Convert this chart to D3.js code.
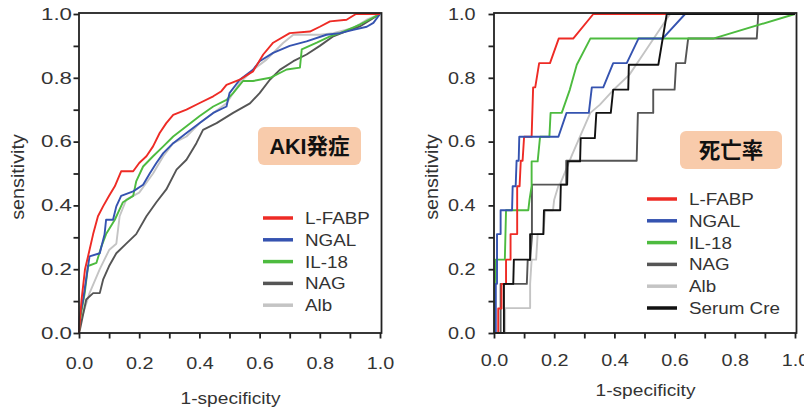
<!DOCTYPE html>
<html>
<head>
<meta charset="utf-8">
<script src="https://cdn.jsdelivr.net/npm/d3@7"></script>
<style>
  body { margin: 0; background: #fff; }
  text { font-family: "Liberation Sans", Arial, "Noto Sans CJK JP", sans-serif; }
</style>
</head>
<body>
<svg id="chart" width="804" height="412"></svg>
<script>

// ROC points [1-specificity, sensitivity], AKI onset panel
var akiLFABP = [[0,0],[0.008,0.1],[0.02,0.2],[0.03,0.24],[0.047,0.31],[0.063,0.366],[0.08,0.397],[0.1,0.43],[0.119,0.46],[0.14,0.507],[0.18,0.507],[0.2,0.533],[0.224,0.554],[0.246,0.585],[0.268,0.627],[0.29,0.658],[0.313,0.684],[0.357,0.7],[0.401,0.721],[0.446,0.742],[0.473,0.758],[0.49,0.778],[0.534,0.794],[0.578,0.82],[0.612,0.873],[0.645,0.91],[0.7,0.94],[0.767,0.945],[0.8,0.96],[0.834,0.977],[0.889,0.982],[0.92,1],[1,1]];
var akiNGAL = [[0,0],[0.002,0.05],[0.013,0.1],[0.027,0.19],[0.035,0.24],[0.069,0.25],[0.085,0.31],[0.09,0.355],[0.113,0.355],[0.124,0.397],[0.14,0.43],[0.18,0.444],[0.213,0.465],[0.235,0.5],[0.257,0.533],[0.28,0.564],[0.313,0.595],[0.357,0.627],[0.401,0.658],[0.446,0.69],[0.49,0.71],[0.5,0.752],[0.534,0.794],[0.578,0.825],[0.6,0.852],[0.645,0.878],[0.7,0.9],[0.756,0.914],[0.822,0.935],[0.867,0.94],[0.911,0.95],[0.956,0.96],[0.978,0.972],[1,1]];
var akiIL18 = [[0,0],[0.003,0.04],[0.019,0.125],[0.03,0.21],[0.058,0.22],[0.074,0.27],[0.09,0.31],[0.119,0.355],[0.146,0.41],[0.18,0.43],[0.19,0.475],[0.213,0.522],[0.246,0.554],[0.28,0.585],[0.313,0.616],[0.357,0.648],[0.401,0.68],[0.446,0.71],[0.49,0.731],[0.512,0.752],[0.545,0.79],[0.578,0.79],[0.635,0.8],[0.69,0.826],[0.734,0.832],[0.74,0.889],[0.79,0.91],[0.834,0.93],[0.867,0.94],[0.933,0.967],[1,1]];
var akiNAG = [[0,0],[0.003,0.01],[0.024,0.105],[0.047,0.125],[0.069,0.125],[0.08,0.167],[0.1,0.21],[0.124,0.25],[0.157,0.28],[0.19,0.31],[0.224,0.366],[0.257,0.41],[0.29,0.45],[0.324,0.512],[0.357,0.543],[0.39,0.595],[0.412,0.637],[0.457,0.658],[0.512,0.69],[0.568,0.72],[0.6,0.752],[0.634,0.794],[0.667,0.825],[0.712,0.852],[0.756,0.873],[0.8,0.9],[0.845,0.93],[0.889,0.946],[0.933,0.961],[1,1]];
var akiAlb = [[0,0],[0.003,0.03],[0.035,0.125],[0.069,0.2],[0.1,0.26],[0.124,0.28],[0.135,0.366],[0.157,0.418],[0.2,0.44],[0.246,0.5],[0.28,0.554],[0.313,0.595],[0.357,0.616],[0.401,0.658],[0.446,0.69],[0.49,0.72],[0.534,0.784],[0.578,0.825],[0.623,0.857],[0.678,0.909],[0.712,0.935],[0.8,0.935],[0.845,0.94],[0.911,0.956],[0.956,0.982],[1,1]];

// ROC points, mortality panel
var mortLFABP = [[0,0],[0.014,0],[0.014,0.077],[0.025,0.077],[0.025,0.154],[0.04,0.154],[0.04,0.23],[0.055,0.23],[0.055,0.31],[0.077,0.31],[0.077,0.46],[0.085,0.46],[0.089,0.54],[0.095,0.54],[0.1,0.615],[0.125,0.615],[0.13,0.77],[0.137,0.77],[0.15,0.846],[0.186,0.846],[0.215,0.923],[0.263,0.923],[0.33,1],[1,1]];
var mortNGAL = [[0,0],[0.006,0],[0.006,0.154],[0.01,0.154],[0.01,0.31],[0.022,0.31],[0.022,0.385],[0.06,0.385],[0.062,0.46],[0.072,0.46],[0.075,0.54],[0.082,0.54],[0.084,0.615],[0.214,0.615],[0.241,0.69],[0.315,0.69],[0.325,0.77],[0.363,0.77],[0.396,0.846],[0.441,0.846],[0.48,0.923],[0.56,0.923],[0.635,1],[1,1]];
var mortIL18 = [[0,0],[0.003,0],[0.003,0.154],[0.005,0.23],[0.036,0.23],[0.04,0.385],[0.114,0.385],[0.118,0.418],[0.125,0.46],[0.125,0.538],[0.145,0.538],[0.153,0.615],[0.184,0.615],[0.188,0.69],[0.225,0.69],[0.252,0.763],[0.275,0.841],[0.32,0.923],[0.728,0.923],[1,1]];
var mortNAG = [[0,0],[0.022,0],[0.022,0.154],[0.109,0.154],[0.112,0.229],[0.12,0.229],[0.126,0.302],[0.126,0.465],[0.24,0.465],[0.24,0.54],[0.474,0.54],[0.478,0.69],[0.529,0.69],[0.529,0.763],[0.6,0.763],[0.605,0.846],[0.635,0.846],[0.645,0.923],[0.873,0.923],[0.878,1],[1,1]];
var mortAlb = [[0,0],[0.037,0],[0.037,0.078],[0.12,0.078],[0.12,0.154],[0.125,0.23],[0.14,0.23],[0.145,0.31],[0.164,0.31],[0.17,0.385],[0.196,0.385],[0.2,0.418],[0.215,0.465],[0.219,0.465],[0.26,0.56],[0.32,0.69],[0.352,0.716],[0.4,0.765],[0.45,0.81],[0.5,0.88],[0.585,1],[1,1]];
var mortSerumCre = [[0,0],[0.033,0],[0.033,0.154],[0.064,0.154],[0.066,0.23],[0.12,0.23],[0.12,0.31],[0.164,0.31],[0.166,0.385],[0.22,0.385],[0.222,0.465],[0.243,0.465],[0.245,0.538],[0.286,0.538],[0.288,0.611],[0.335,0.611],[0.34,0.69],[0.388,0.69],[0.396,0.763],[0.446,0.763],[0.448,0.841],[0.546,0.841],[0.574,1],[1,1]];

var markerNames = ["L-FABP", "NGAL", "IL-18", "NAG", "Alb", "Serum Cre"];
var markerColors = ["#ee2b25", "#3553b0", "#4dbb3f", "#555555", "#c4c4c4", "#111111"];

var labelTicks = [0, 0.2, 0.4, 0.6, 0.8, 1.0];
var allTicks = [0, 0.1, 0.2, 0.3, 0.4, 0.5, 0.6, 0.7, 0.8, 0.9, 1.0];

var svg = d3.select("#chart");

// the scanned figure is a bit wider than tall, so text gets stretched sideways
function stretch(sel, s) {
    sel.each(function () {
        var t = d3.select(this);
        var tx = +t.attr("x") || 0, ty = +t.attr("y") || 0;
        t.attr("x", 0).attr("y", 0)
            .attr("transform", "translate(" + tx + "," + ty + ") scale(" + s + ",1)");
    });
}

function drawPanel(p) {
    var x = d3.scaleLinear().domain([0, 1]).range([p.left, p.right]);
    var y = d3.scaleLinear().domain([0, 1]).range([333, 14]);
    var fmt = d3.format(".1f");
    var g = svg.append("g");

    var yAxis = g.append("g")
        .attr("transform", "translate(" + p.left + ",0)")
        .call(d3.axisLeft(y).tickValues(allTicks).tickSize(5.5).tickPadding(p.yPad)
            .tickFormat(function (d) { return labelTicks.indexOf(d) >= 0 ? fmt(d) : ""; }));
    var xAxis = g.append("g")
        .attr("transform", "translate(0,333)")
        .call(d3.axisBottom(x).tickValues(allTicks).tickSize(5.5).tickPadding(p.xPad)
            .tickFormat(function (d) { return labelTicks.indexOf(d) >= 0 ? fmt(d) : ""; }));

    [yAxis, xAxis].forEach(function (a, k) {
        a.select(".domain").remove();
        a.selectAll("line").attr("stroke", "#222").attr("stroke-width", 1.8);
        a.selectAll("text").attr("fill", "#333").style("font-size", "16.5px");
        stretch(a.selectAll("text"), k === 0 ? p.yStretch : 1.2);
    });

    // curves, drawn back to front
    var line = d3.line().x(function (d) { return x(d[0]); }).y(function (d) { return y(d[1]); });
    p.order.forEach(function (i) {
        g.append("path")
            .attr("d", line(p.series[i]))
            .attr("fill", "none")
            .attr("stroke", markerColors[i])
            .attr("stroke-width", 1.9)
            .attr("stroke-linejoin", "round");
    });

    // frame
    g.append("rect")
        .attr("x", p.left).attr("y", 13)
        .attr("width", p.right - p.left + 1.5).attr("height", 320)
        .attr("fill", "none").attr("stroke", "#222").attr("stroke-width", 1.8);

    g.append("text")
        .attr("transform", "translate(" + p.yLabelX + ",177) rotate(-90) scale(1.13,1)")
        .attr("text-anchor", "middle").attr("dy", "0.35em")
        .attr("fill", "#333").style("font-size", "17.5px")
        .text("sensitivity");
    var xl = g.append("text")
        .attr("x", (p.left + p.right) / 2 + 1).attr("y", p.xLabelY)
        .attr("text-anchor", "middle").attr("dy", "0.35em")
        .attr("fill", "#333").style("font-size", "16.5px")
        .text("1-specificity");
    stretch(xl, 1.16);

    // title box
    g.append("rect")
        .attr("x", p.box[0]).attr("y", p.box[1]).attr("width", p.box[2]).attr("height", p.box[3])
        .attr("rx", 6).attr("fill", "#f8cbab");
    g.append("text")
        .attr("x", p.box[0] + p.box[2] / 2).attr("y", p.box[1] + p.box[3] / 2)
        .attr("text-anchor", "middle").attr("dy", "0.36em")
        .attr("fill", "#111").style("font-size", "21.5px").style("font-weight", "bold")
        .text(p.title);

    // legend
    p.series.forEach(function (s, i) {
        var ly = p.legendY + i * 21.8;
        g.append("line")
            .attr("x1", p.legendX).attr("x2", p.legendX + 30)
            .attr("y1", ly).attr("y2", ly)
            .attr("stroke", markerColors[i]).attr("stroke-width", 3.5);
        var lt = g.append("text")
            .attr("x", p.legendX + 42).attr("y", ly).attr("dy", "0.36em")
            .attr("fill", "#333").style("font-size", "16.5px")
            .text(markerNames[i]);
        stretch(lt, 1.14);
    });
}

drawPanel({
    left: 79, right: 380, yPad: 1.5, xPad: 19, yStretch: 1.35,
    yLabelX: 18, xLabelY: 398,
    series: [akiLFABP, akiNGAL, akiIL18, akiNAG, akiAlb],
    order: [4, 3, 2, 1, 0],
    title: "AKI発症", box: [258, 127, 103, 38],
    legendX: 263, legendY: 218
});

drawPanel({
    left: 494, right: 795, yPad: 13, xPad: 16, yStretch: 1.2,
    yLabelX: 432, xLabelY: 390,
    series: [mortLFABP, mortNGAL, mortIL18, mortNAG, mortAlb, mortSerumCre],
    order: [4, 3, 2, 0, 1, 5],
    title: "死亡率", box: [680, 131, 102, 38],
    legendX: 647, legendY: 199
});

</script>
</body>
</html>
